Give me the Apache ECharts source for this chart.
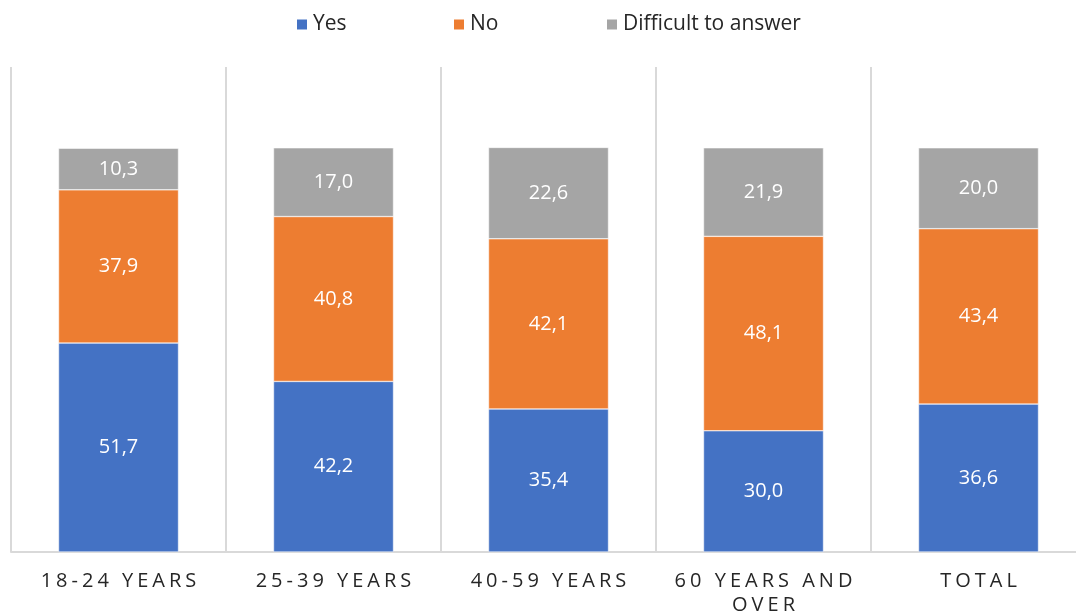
<!DOCTYPE html>
<html><head><meta charset="utf-8">
<script src="https://cdn.jsdelivr.net/npm/echarts@6/dist/echarts.min.js"></script>
<style>html,body{margin:0;padding:0;background:#fff}#c{width:1076px;height:613px}</style>
</head><body><div id="c"></div>
<script>
const categories = ['18-24 YEARS', '25-39 YEARS', '40-59 YEARS', '60 YEARS AND\nOVER', 'TOTAL'];
const yesValues = [51.7, 42.2, 35.4, 30.0, 36.6];
const noValues = [37.9, 40.8, 42.1, 48.1, 43.4];
const difficultValues = [10.3, 17.0, 22.6, 21.9, 20.0];
const seriesNames = ['Yes', 'No', 'Difficult to answer'];
const colors = ['#4472c4', '#ed7d31', '#a5a5a5'];

const FONT = '"Open Sans", Lato, sans-serif';
function spaced(s) {
  return s.split('\n').map(l => l.split('').join('\u200A\u200A')).join('\n');
}
const labelCfg = {
  show: true, position: 'inside', color: '#ffffff', fontSize: 20, fontFamily: FONT,
  formatter: p => p.value.toFixed(1).replace('.', ',')
};
function mk(name, data, color) {
  return { name, type: 'bar', stack: 'a', data, barWidth: 120,
    itemStyle: { color, borderColor: '#ffffff', borderWidth: 0.5 }, label: labelCfg };
}
const chart = echarts.init(document.getElementById('c'));
const legendBase = { top: 14, padding: 0, itemWidth: 12, itemHeight: 12, itemGap: 0,
  textStyle: { fontSize: 21, fontFamily: FONT, color: '#262626' }, icon: 'rect' };
chart.setOption({
  animation: false,
  legend: [
    Object.assign({}, legendBase, { left: 295, data: [seriesNames[0]] }),
    Object.assign({}, legendBase, { left: 452, data: [seriesNames[1]] }),
    Object.assign({}, legendBase, { left: 605, data: [seriesNames[2]] })
  ],
  grid: { left: 11, width: 1075, top: 67, height: 485, containLabel: false, outerBoundsMode: 'none' },
  xAxis: {
    type: 'category', data: categories,
    axisLine: { show: true, lineStyle: { color: '#d9d9d9', width: 2 } },
    axisTick: { show: false },
    splitLine: { show: true, lineStyle: { color: '#d9d9d9', width: 2 } },
    axisLabel: { formatter: v => spaced(v), fontSize: 20, fontFamily: FONT, color: '#262626',
      margin: 17, lineHeight: 24, interval: 0 }
  },
  yAxis: { type: 'value', min: 0, max: 120, show: false, splitLine: { show: false } },
  series: [
    mk(seriesNames[0], yesValues, colors[0]),
    mk(seriesNames[1], noValues, colors[1]),
    mk(seriesNames[2], difficultValues, colors[2])
  ]
});
</script></body></html>
